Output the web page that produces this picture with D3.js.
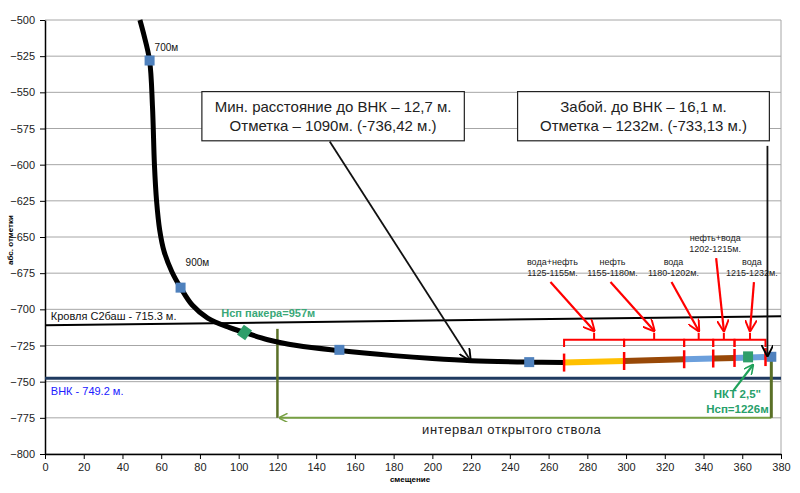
<!DOCTYPE html>
<html><head><meta charset="utf-8">
<script src="https://cdnjs.cloudflare.com/ajax/libs/d3/7.8.5/d3.min.js"></script>
<style>body{margin:0;background:#fff}svg{font-family:"Liberation Sans",Arial,sans-serif}</style>
</head><body><svg id="c" width="800" height="493"></svg>
<script>
// ---- data ----
const xTicks = d3.range(0, 381, 20);
const yTicks = d3.range(-800, -499, 25);
// well trajectory (offset, abs. elevation)
const trajX = [49, 51, 54, 55.5, 56.5, 57.6, 59.2, 61.5, 65.5, 70, 76, 84, 95, 103, 115, 130, 152, 180, 200, 220, 250, 268];
const trajY = [-500, -510, -528, -560, -600, -625, -645, -660, -674, -685, -697, -706, -712.5, -716, -721, -725, -728.5, -732, -734, -735.5, -736.5, -736.8];
// producing intervals along horizontal part
const segNames = ["вода+нефть", "нефть", "вода", "нефть+вода", "вода"];
const segRanges = ["1125-1155м.", "1155-1180м.", "1180-1202м.", "1202-1215м.", "1215-1232м."];
const segFromX = [268, 299, 330, 345, 356];
const segToX = [299, 330, 345, 356, 372];
const segFromY = [-736.8, -735.7, -734.5, -734.0, -733.6];
const segToY = [-735.7, -734.5, -734.0, -733.6, -733.0];
const segFluid = ["yellow", "brown", "blue", "brown", "blue"];
// measured depth markers
const mdX = [54, 70, 152, 250, 375];
const mdY = [-528, -685, -728, -736.5, -732.8];
const mdLabels = ["700м", "900м", "", "", ""];
const packer = {x: 103, y: -716, label: "Нсп пакера=957м"};
const tubing = {x: 363, y: -733.2, label1: "НКТ 2,5\"", label2: "Нсп=1226м"};
const roofLine = {x: [0, 380], y: [-711, -704.8], label: "Кровля С2баш - 715.3 м."};
const owcLevel = -747.6, owcLabel = "ВНК - 749.2 м.";
const openHole = {from: 120, to: 375, top: -713.5, topRight: -733.5, level: -775, label: "интервал открытого ствола"};
const box1 = ["Мин. расстояние до ВНК – 12,7 м.", "Отметка – 1090м. (-736,42 м.)"];
const box2 = ["Забой. до ВНК – 16,1 м.", "Отметка – 1232м. (-733,13 м.)"];

// ---- layout ----
const svg = d3.select("#c");
const L = 45, R = 781, T = 20, B = 454;
const x = d3.scaleLinear().domain([0, 380]).range([L, R]);
const y = d3.scaleLinear().domain([-800, -500]).range([B, T]);
const fluidColor = {yellow: "#ffc000", brown: "#984807", blue: "#6b9fdc"};
const mdLabelDy = [-10, -22, 0, 0, 0];

const defs = svg.append("defs");
function marker(id, color, w) {
  defs.append("marker").attr("id", id).attr("viewBox", "0 0 10 10").attr("refX", 9).attr("refY", 5)
    .attr("markerWidth", w).attr("markerHeight", w).attr("orient", "auto-start-reverse").attr("markerUnits", "userSpaceOnUse")
    .append("path").attr("d", "M0,0 L10,5 L0,10").attr("fill", "none").attr("stroke", color).attr("stroke-width", 1.6);
}
marker("arrBlack", "#000", 12);
marker("arrRed", "#ff0000", 12);
marker("arrGreen", "#1fa15a", 10);
marker("arrLG", "#77a043", 9);

// grid
svg.append("g").selectAll("line").data(yTicks).join("line")
  .attr("x1", L).attr("x2", R).attr("y1", d => y(d)).attr("y2", d => y(d))
  .attr("stroke", "#a6a6a6").attr("stroke-width", 1);
svg.append("line").attr("x1", R).attr("x2", R).attr("y1", T).attr("y2", B).attr("stroke", "#a6a6a6");

// axes
const gx = svg.append("g").attr("transform", `translate(0,${B})`)
  .call(d3.axisBottom(x).tickValues(xTicks).tickSize(5).tickSizeOuter(0).tickPadding(4));
const gy = svg.append("g").attr("transform", `translate(${L},0)`)
  .call(d3.axisLeft(y).tickValues(yTicks).tickSize(5).tickSizeOuter(0).tickPadding(5));
[gx, gy].forEach(g => {
  g.select(".domain").attr("stroke", "#000").attr("stroke-width", 1.5);
  g.selectAll(".tick line").attr("stroke", "#000");
  g.selectAll("text").attr("font-size", 11).attr("fill", "#222").attr("font-family", "Liberation Sans, Arial");
});
svg.append("text").attr("x", 410).attr("y", 482).attr("text-anchor", "middle").attr("font-size", 8).attr("font-weight", "bold").text("смещение");
svg.append("text").attr("transform", `translate(13,240) rotate(-90)`).attr("text-anchor", "middle").attr("font-size", 8).attr("font-weight", "bold").text("абс. отметки");

// roof line
svg.append("line").attr("x1", x(roofLine.x[0])).attr("x2", x(roofLine.x[1])).attr("y1", y(roofLine.y[0])).attr("y2", y(roofLine.y[1]))
  .attr("stroke", "#000").attr("stroke-width", 2);
svg.append("text").attr("x", x(3)).attr("y", y(-707.5)).attr("font-size", 11).attr("fill", "#111").text(roofLine.label);

// OWC
svg.append("line").attr("x1", x(0)).attr("x2", x(380)).attr("y1", y(owcLevel)).attr("y2", y(owcLevel))
  .attr("stroke", "#1f3a60").attr("stroke-width", 3);
svg.append("text").attr("x", x(3)).attr("y", y(-759)).attr("font-size", 11).attr("fill", "#2020ff").text(owcLabel);

// open hole interval
svg.append("line").attr("x1", x(openHole.from)).attr("x2", x(openHole.from)).attr("y1", y(openHole.top)).attr("y2", y(openHole.level))
  .attr("stroke", "#5a7027").attr("stroke-width", 2.5);
svg.append("line").attr("x1", x(openHole.to)).attr("x2", x(openHole.from) + 2).attr("y1", y(openHole.level)).attr("y2", y(openHole.level))
  .attr("stroke", "#77a043").attr("stroke-width", 2).attr("marker-end", "url(#arrLG)");
svg.append("line").attr("x1", x(openHole.to)).attr("x2", x(openHole.to)).attr("y1", y(openHole.topRight)).attr("y2", y(openHole.level))
  .attr("stroke", "#5a7027").attr("stroke-width", 3);
svg.append("text").attr("x", x(241)).attr("y", y(-786.5)).attr("text-anchor", "middle").attr("font-size", 13).attr("fill", "#222")
  .attr("letter-spacing", 0.6).text(openHole.label);

// trajectory
const line = d3.line().x(d => x(d[0])).y(d => y(d[1])).curve(d3.curveCatmullRom.alpha(0.5));
svg.append("path").datum(trajX.map((v, i) => [v, trajY[i]])).attr("d", line)
  .attr("fill", "none").attr("stroke", "#000").attr("stroke-width", 5);

// colored intervals
segFromX.forEach((v, i) => {
  svg.append("line").attr("x1", x(v)).attr("x2", x(segToX[i])).attr("y1", y(segFromY[i])).attr("y2", y(segToY[i]))
    .attr("stroke", fluidColor[segFluid[i]]).attr("stroke-width", 6);
});
// md markers
svg.append("g").selectAll("rect").data(mdX).join("rect")
  .attr("x", (d) => x(d) - 5).attr("y", (d, i) => y(mdY[i]) - 5).attr("width", 10).attr("height", 10).attr("fill", "#4f81bd");
mdX.forEach((v, i) => {
  if (mdLabels[i]) svg.append("text").attr("x", x(v) + 5).attr("y", y(mdY[i]) + mdLabelDy[i]).attr("font-size", 10).attr("fill", "#111").text(mdLabels[i]);
});
// red ticks at interval boundaries
const bounds = segFromX.concat([segToX[segToX.length - 1]]);
const boundsY = segFromY.concat([segToY[segToY.length - 1]]);
bounds.forEach((v, i) => {
  svg.append("line").attr("x1", x(v)).attr("x2", x(v)).attr("y1", y(boundsY[i]) - 9).attr("y2", y(boundsY[i]) + 9)
    .attr("stroke", "#ff0000").attr("stroke-width", 2.5);
});
// packer & tubing markers
svg.append("rect").attr("x", -5).attr("y", -6).attr("width", 10).attr("height", 12).attr("fill", "#2e9e6a")
  .attr("transform", `translate(${x(packer.x)},${y(packer.y)}) rotate(35)`);
svg.append("text").attr("x", x(91)).attr("y", y(-705.5)).attr("font-size", 11).attr("font-weight", "bold").attr("fill", "#3aa878").text(packer.label);
svg.append("rect").attr("x", x(tubing.x) - 5).attr("y", y(tubing.y) - 6).attr("width", 10).attr("height", 11).attr("fill", "#2e9e6a");
svg.append("line").attr("x1", x(355.5)).attr("y1", y(-756)).attr("x2", x(365.5)).attr("y2", y(-738.5))
  .attr("stroke", "#1fa15a").attr("stroke-width", 2.2).attr("marker-end", "url(#arrGreen)");
svg.append("text").attr("x", x(357.5)).attr("y", y(-761)).attr("text-anchor", "middle").attr("font-size", 11.5).attr("font-weight", "bold").attr("fill", "#27a06a").text(tubing.label1);
svg.append("text").attr("x", x(357.5)).attr("y", y(-771.5)).attr("text-anchor", "middle").attr("font-size", 11.5).attr("font-weight", "bold").attr("fill", "#27a06a").text(tubing.label2);

// red brackets above intervals
const brY = y(-721), brTip = y(-726);
segFromX.forEach((v, i) => {
  const a = x(v), b = x(segToX[i]), m = (a + b) / 2;
  svg.append("path").attr("d", `M${a},${brTip} L${a},${brY} L${b},${brY} L${b},${brTip} M${m},${brY} L${m},${brY - 7}`)
    .attr("fill", "none").attr("stroke", "#ff0000").attr("stroke-width", 2);
});
// labels + arrows
const lblX = [262, 293, 324.5, 346, 365];
const lblY = [-677, -677, -677, -660.5, -677];
segFromX.forEach((v, i) => {
  const m = (x(v) + x(segToX[i])) / 2;
  const lx = x(lblX[i]);
  const ly = y(lblY[i]);
  svg.append("text").attr("x", lx).attr("y", ly - 11).attr("text-anchor", "middle").attr("font-size", 9).attr("fill", "#222").text(segNames[i]);
  svg.append("text").attr("x", lx).attr("y", ly).attr("text-anchor", "middle").attr("font-size", 9).attr("fill", "#222").text(segRanges[i]);
  const sx = i === 3 ? lx + 1 : lx - (i === 4 ? -2 : 2);
  svg.append("line").attr("x1", sx).attr("y1", ly + 6).attr("x2", m).attr("y2", brY - 9)
    .attr("stroke", "#ff0000").attr("stroke-width", 2.2).attr("marker-end", "url(#arrRed)");
});

// annotation boxes
function box(x0, x1, y0, y1, lines) {
  svg.append("rect").attr("x", x(x0)).attr("y", y(y0)).attr("width", x(x1) - x(x0)).attr("height", y(y1) - y(y0))
    .attr("fill", "#fff").attr("stroke", "#222").attr("stroke-width", 1.2);
  const cx = (x(x0) + x(x1)) / 2;
  lines.forEach((t, i) => svg.append("text").attr("x", cx).attr("y", y(y0) + 20 + i * 19).attr("text-anchor", "middle")
    .attr("font-size", 15).attr("fill", "#222").text(t));
}
box(81, 216.5, -549.5, -583.5, box1);
box(244, 374, -549.5, -583.5, box2);
svg.append("line").attr("x1", x(147)).attr("y1", y(-584)).attr("x2", x(219.5)).attr("y2", y(-735))
  .attr("stroke", "#111").attr("stroke-width", 1.8).attr("marker-end", "url(#arrBlack)");
svg.append("line").attr("x1", x(373)).attr("y1", y(-587)).attr("x2", x(373)).attr("y2", y(-732))
  .attr("stroke", "#111").attr("stroke-width", 1.8).attr("marker-end", "url(#arrBlack)");
</script></body></html>
